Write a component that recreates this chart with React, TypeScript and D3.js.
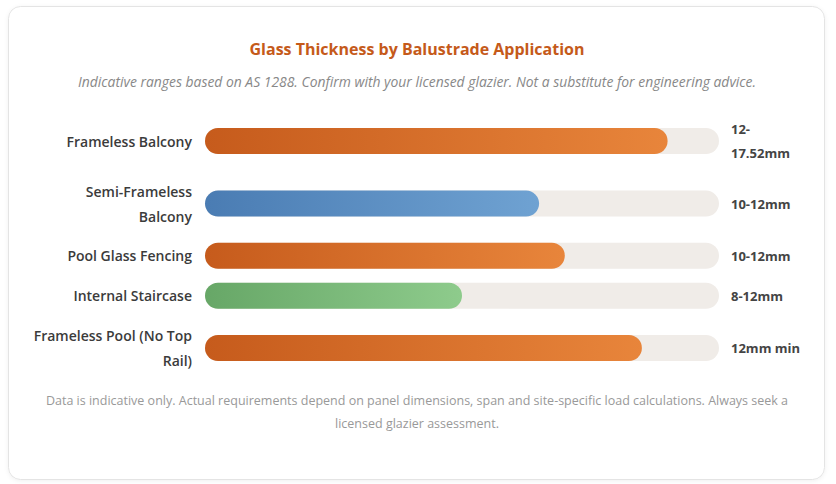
import React from "react";
import * as d3 from "d3";

const categories = [
  "Frameless Balcony",
  "Semi-Frameless Balcony",
  "Pool Glass Fencing",
  "Internal Staircase",
  "Frameless Pool (No Top Rail)",
];
const fillPercent = [90, 65, 70, 50, 85];
const valueLabels = ["12-17.52mm", "10-12mm", "10-12mm", "8-12mm", "12mm min"];
const palette = ["orange", "blue", "orange", "green", "orange"];

const title = "Glass Thickness by Balustrade Application";
const subtitle =
  "Indicative ranges based on AS 1288. Confirm with your licensed glazier. Not a substitute for engineering advice.";
const footnote =
  "Data is indicative only. Actual requirements depend on panel dimensions, span and site-specific load calculations. Always seek a licensed glazier assessment.";

const gradients: Record<string, [string, string]> = {
  orange: ["#c65b1c", "#e8853b"],
  blue: ["#4a7cb3", "#6fa2d2"],
  green: ["#67a767", "#8ecb8c"],
};

const FONT = "'Open Sans', 'Noto Sans', sans-serif";

let ctx: CanvasRenderingContext2D | null = null;
function measure(text: string, font: string) {
  if (!ctx) ctx = document.createElement("canvas").getContext("2d");
  if (!ctx) return text.length * 7;
  ctx.font = font;
  return ctx.measureText(text).width;
}

function wrap(text: string, font: string, maxW: number, hyphen = false) {
  const tokens = hyphen
    ? text.match(/[^\s-]+-?|\s+/g) || [text]
    : text.split(/(\s+)/);
  const lines: string[] = [];
  let cur = "";
  for (const t of tokens) {
    const cand = cur + t;
    if (cur.trim() && measure(cand.trim(), font) > maxW) {
      lines.push(cur.trim());
      cur = t.trim() ? t : "";
    } else cur = cand;
  }
  if (cur.trim()) lines.push(cur.trim());
  return lines;
}

export default function App() {
  const W = 836;
  const H = 484;
  const cx = 417;
  const labelRight = 192;
  const trackX0 = 205;
  const trackX1 = 719;
  const valueX = 731;
  const barH = 26;
  const labelLH = 25.2;
  const valueLH = 23.4;
  const gap = 14;

  const x = d3.scaleLinear().domain([0, 100]).range([trackX0, trackX1]);

  const labelFont = `600 14px ${FONT}`;
  const valueFont = `700 13px ${FONT}`;
  const rows = categories.map((c, i) => {
    const ll = wrap(c, labelFont, 162);
    const vl = wrap(valueLabels[i], valueFont, 75, true);
    const h = Math.max(barH, ll.length * labelLH, vl.length * valueLH);
    return { c, ll, vl, h, i };
  });
  let yTop = 117.6;
  const laid = rows.map((r) => {
    const cy = yTop + r.h / 2;
    yTop += r.h + gap;
    return { ...r, cy };
  });

  const footLines = wrap(footnote, `400 12.5px ${FONT}`, 750);

  return (
    <svg
      width={W}
      height={H}
      style={{ position: "absolute", left: 0, top: 0, display: "block" }}
      fontFamily={FONT}
    >
      <defs>
        <filter id="sh" x="-5%" y="-5%" width="110%" height="110%">
          <feDropShadow dx="0" dy="1" stdDeviation="2" floodColor="#000" floodOpacity="0.06" />
        </filter>
        {Object.entries(gradients).map(([k, [a, b]]) => (
          <linearGradient id={`g-${k}`} key={k} x1="0" x2="1" y1="0" y2="0">
            <stop offset="0%" stopColor={a} />
            <stop offset="100%" stopColor={b} />
          </linearGradient>
        ))}
      </defs>
      <rect width={W} height={H} fill="#ffffff" />
      <rect
        x={8.5}
        y={6.5}
        width={816}
        height={473}
        rx={12}
        fill="#ffffff"
        stroke="#e4e4e4"
        filter="url(#sh)"
      />
      <text
        x={cx}
        y={49}
        textAnchor="middle"
        dominantBaseline="central"
        fontSize={16}
        fontWeight={700}
        fill="#c55a1a"
      >
        {title}
      </text>
      <text
        x={cx}
        y={81}
        textAnchor="middle"
        dominantBaseline="central"
        fontSize={13.9}
        fontStyle="italic"
        fill="#888888"
      >
        {subtitle}
      </text>
      {laid.map((r) => (
        <g key={r.c}>
          {r.ll.map((ln, j) => (
            <text
              key={j}
              x={labelRight}
              y={r.cy + (j - (r.ll.length - 1) / 2) * labelLH}
              textAnchor="end"
              dominantBaseline="central"
              fontSize={14}
              fontWeight={600}
              fill="#3b3b3b"
            >
              {ln}
            </text>
          ))}
          <rect
            x={x(0)}
            y={r.cy - barH / 2}
            width={x(100) - x(0)}
            height={barH}
            rx={barH / 2}
            fill="#f0ece8"
          />
          <rect
            x={x(0)}
            y={r.cy - barH / 2}
            width={x(fillPercent[r.i]) - x(0)}
            height={barH}
            rx={barH / 2}
            fill={`url(#g-${palette[r.i]})`}
          />
          {r.vl.map((ln, j) => (
            <text
              key={j}
              x={valueX}
              y={r.cy + (j - (r.vl.length - 1) / 2) * valueLH}
              dominantBaseline="central"
              fontSize={13}
              fontWeight={700}
              fill="#444444"
            >
              {ln}
            </text>
          ))}
        </g>
      ))}
      {footLines.map((ln, j) => (
        <text
          key={j}
          x={cx}
          y={400 + j * 23}
          textAnchor="middle"
          dominantBaseline="central"
          fontSize={12.5}
          fill="#999999"
        >
          {ln}
        </text>
      ))}
    </svg>
  );
}
